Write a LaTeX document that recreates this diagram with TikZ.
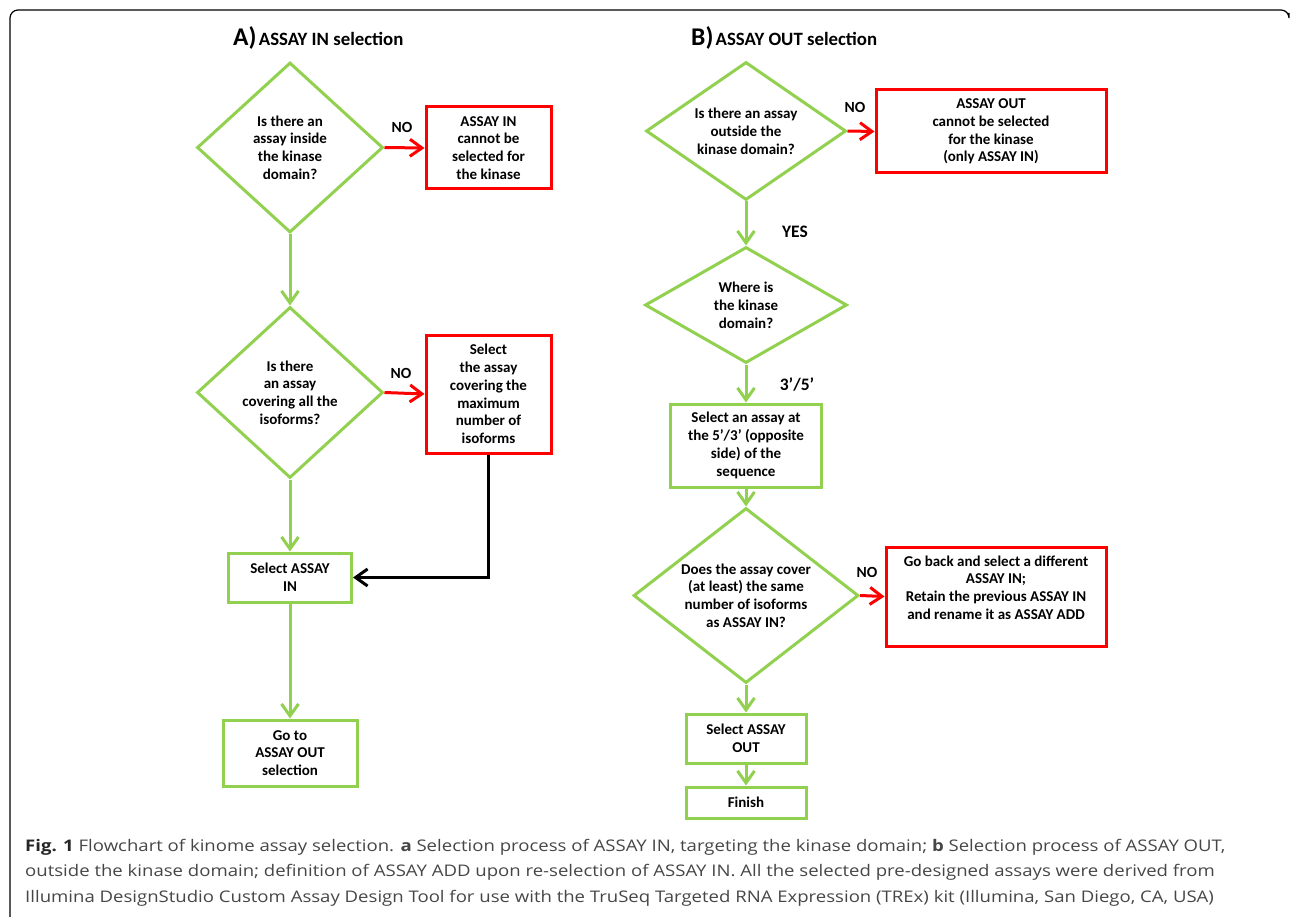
\documentclass[tikz,border=0pt]{standalone}
\usepackage{fontspec}
\setmainfont{Carlito}
\newfontfamily\capfont[FakeStretch=1.16]{Open Sans}
\usetikzlibrary{shapes.geometric,arrows.meta,positioning}
\definecolor{flowgreen}{RGB}{146,208,80}
\definecolor{flowred}{RGB}{255,0,0}
\definecolor{captiongray}{RGB}{70,70,70}

\tikzset{
  boxfont/.style={font=\fontsize{15}{17.8}\selectfont\bfseries},
  question/.style={draw=flowgreen, line width=3pt, diamond, inner sep=0pt, align=center, boxfont},
  greenbox/.style={draw=flowgreen, line width=3pt, rectangle, inner sep=0pt, align=center, boxfont},
  redbox/.style={draw=flowred, line width=3pt, rectangle, inner sep=0pt, align=center, boxfont},
  yesarrow/.style={flowgreen, line width=3pt, -{Straight Barb[length=12pt,width=17pt]}},
  noarrow/.style={flowred, line width=3pt, -{Straight Barb[length=12pt,width=17pt]}},
  backarrow/.style={black, line width=3pt, -{Straight Barb[length=12pt,width=17pt]}},
  answer/.style={font=\fontsize{15.5}{18}\selectfont\bfseries},
  bigans/.style={font=\fontsize{17.5}{20}\selectfont\bfseries},
  paneltitle/.style={anchor=west, inner sep=0pt}
}

\begin{document}
\begin{tikzpicture}[x=1pt, y=-1pt]
  \useasboundingbox (0,0) rectangle (1290,917);
  % Frame
  \draw[line width=1.2pt, rounded corners=8pt] (10,917) -- (10,10) -- (1289,10) -- (1289,13);

  % Panel A
  \node[paneltitle] (titleA) at (233,38) {{\fontsize{25.5}{28}\selectfont\bfseries A)} {\fontsize{18.8}{21}\selectfont\bfseries ASSAY IN selection}};
  \node[question, minimum width=186pt, minimum height=170pt, aspect=1.09] (inside) at (290,147.5) {Is there an\\assay inside\\the kinase\\domain?};
  \node[redbox, minimum width=125pt, minimum height=82pt] (noin) at (488.5,148) {ASSAY IN\\cannot be\\selected for\\the kinase};
  \node[question, minimum width=186pt, minimum height=171pt, aspect=1.09] (allisof) at (290,392.5) {Is there\\an assay\\covering all the\\isoforms?};
  \node[redbox, minimum width=125pt, minimum height=118pt] (maxisof) at (488.5,394) {Select\\the assay\\covering the\\maximum\\number of\\isoforms};
  \node[greenbox, minimum width=123pt, minimum height=49pt] (selin) at (290,577.5) {Select ASSAY\\IN};
  \node[greenbox, minimum width=134pt, minimum height=66pt] (gotoout) at (290,753) {Go to\\ASSAY OUT\\selection};

  % Panel A connectors
  \draw[noarrow] (inside.east) -- (noin.west);
  \node[answer] at (402,127) {NO};
  \draw[yesarrow] (inside.south) -- (allisof.north);
  \draw[noarrow] (allisof.east) -- (maxisof.west);
  \node[answer] at (401,373) {NO};
  \draw[yesarrow] (allisof.south) -- (selin.north);
  \draw[backarrow] (maxisof.south) |- (selin.east);
  \draw[yesarrow] (selin.south) -- (gotoout.north);

  % Panel B
  \node[paneltitle] (titleB) at (691,38) {{\fontsize{25.5}{28}\selectfont\bfseries B)} {\fontsize{18.8}{21}\selectfont\bfseries ASSAY OUT selection}};
  \node[question, minimum width=200pt, minimum height=138pt, aspect=1.45] (outside) at (746,131) {Is there an assay\\outside the\\kinase domain?};
  \node[redbox, minimum width=230pt, minimum height=83pt] (noout) at (991,131.5) {ASSAY OUT\\cannot be selected\\for the kinase\\(only ASSAY IN)};
  \node[question, minimum width=202pt, minimum height=116pt, aspect=1.74] (where) at (746,305) {Where is\\the kinase\\domain?};
  \node[greenbox, minimum width=151pt, minimum height=83pt] (opposite) at (746,445.5) {Select an assay at\\the 5’/3’ (opposite\\side) of the\\sequence};
  \node[question, minimum width=225pt, minimum height=175pt, aspect=1.29] (cover) at (746,595.5) {Does the assay cover\\(at least) the same\\number of isoforms\\as ASSAY IN?};
  \node[redbox, minimum width=220pt, minimum height=99pt] (goback) at (996,596.5) {Go back and select a different\\ASSAY IN;\\Retain the previous ASSAY IN\\and rename it as ASSAY ADD\\\mbox{}};
  \node[greenbox, minimum width=120pt, minimum height=49pt] (selout) at (746,738.5) {Select ASSAY\\OUT};
  \node[greenbox, minimum width=120pt, minimum height=31pt] (finish) at (746,802.5) {Finish};

  % Panel B connectors
  \draw[noarrow] (outside.east) -- (noout.west);
  \node[answer] at (855,107) {NO};
  \draw[yesarrow] (outside.south) -- (where.north);
  \node[bigans] at (795,232) {YES};
  \draw[yesarrow] (where.south) -- (opposite.north);
  \node[bigans] at (797,385) {3’/5’};
  \draw[yesarrow] (opposite.south) -- (cover.north);
  \draw[noarrow] (cover.east) -- (goback.west);
  \node[answer] at (867,572) {NO};
  \draw[yesarrow] (cover.south) -- (selout.north);
  \draw[yesarrow] (selout.south) -- (finish.north);

  % Caption
  \node[anchor=north west, inner sep=0pt, align=left, text=captiongray, font=\capfont\fontsize{16}{25.5}\selectfont] (caption) at (25,839) {{\bfseries\color{black!85}Fig. 1} Flowchart of kinome assay selection. {\bfseries a} Selection process of ASSAY IN, targeting the kinase domain; {\bfseries b} Selection process of ASSAY OUT,\\outside the kinase domain; definition of ASSAY ADD upon re-selection of ASSAY IN. All the selected pre-designed assays were derived from\\Illumina DesignStudio Custom Assay Design Tool for use with the TruSeq Targeted RNA Expression (TREx) kit (Illumina, San Diego, CA, USA)};
\end{tikzpicture}
\end{document}
